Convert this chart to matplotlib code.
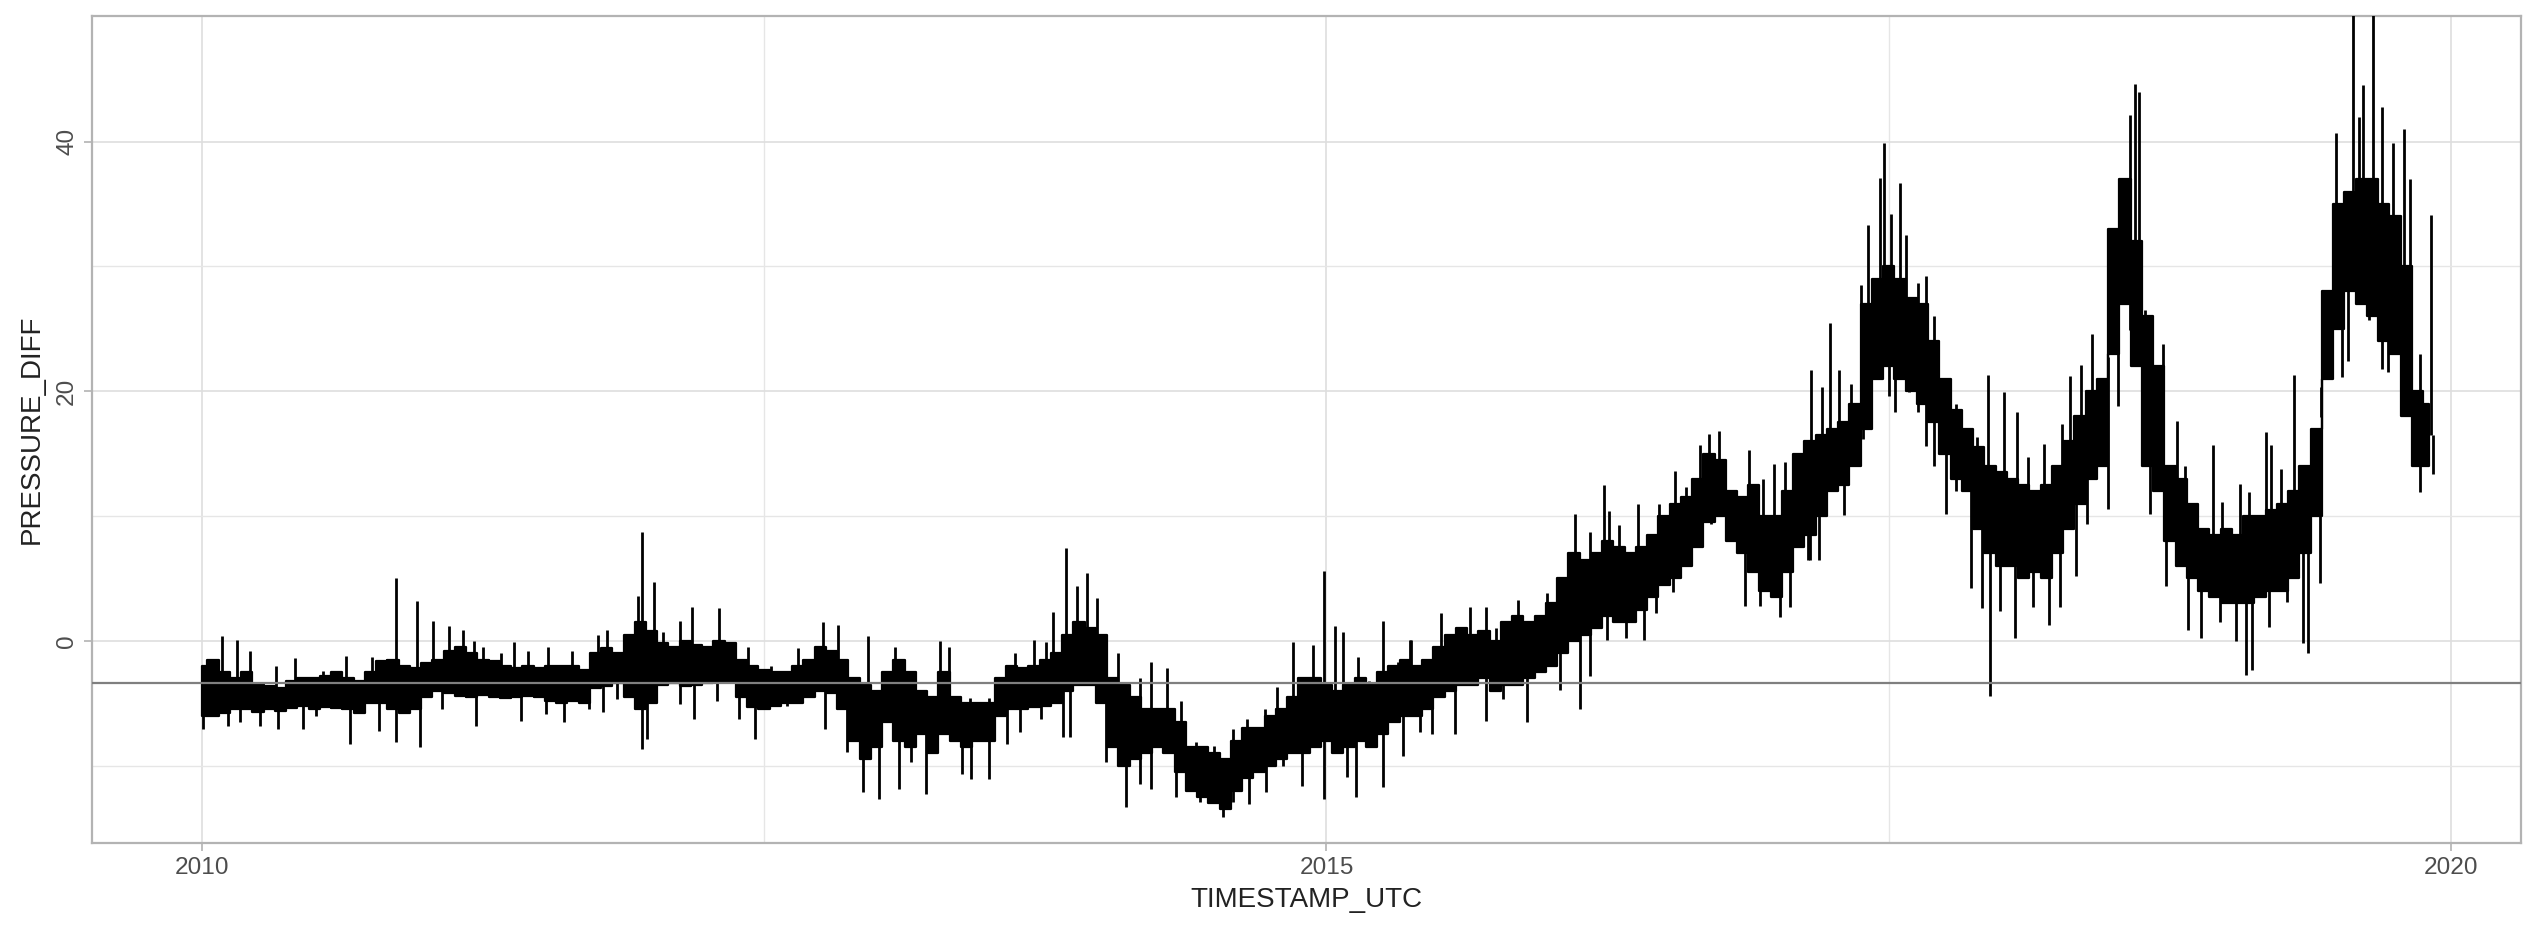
import numpy as np
import matplotlib
matplotlib.use("Agg")
import matplotlib.pyplot as plt

plt.rcParams['font.family'] = ['Liberation Sans', 'DejaVu Sans']

# core band of the series, one value every 0.05 year starting 2010.0
start_year = 2010.0
step_year = 0.05
core_lo = [
    -6.0, -6.0, -5.8, -5.5, -5.5, -5.7, -5.5, -5.6, -5.4, -5.2, -5.5, -5.3, -5.4, -5.5, -5.8, -5.0, -5.0, -5.5, -5.8, -5.5,
    -4.5, -4.0, -4.2, -4.4, -4.5, -4.3, -4.5, -4.6, -4.5, -4.4, -4.5, -4.8, -5.0, -4.8, -5.0, -3.8, -3.6, -3.4, -4.5, -5.5,
    -5.0, -3.5, -3.4, -3.6, -3.5, -3.4, -3.3, -3.2, -4.5, -5.3, -5.5, -5.2, -5.0, -5.0, -4.5, -4.0, -4.2, -5.5, -8.0, -9.5,
    -8.5, -6.5, -8.0, -8.5, -7.5, -9.0, -7.5, -8.0, -8.5, -8.0, -8.0, -6.0, -5.5, -5.5, -5.3, -5.2, -5.0, -4.0, -3.5, -3.5,
    -5.0, -8.5, -10.0, -9.5, -9.0, -8.5, -9.0, -10.5, -12.0, -12.5, -13.0, -13.5, -12.0, -11.0, -10.5, -10.0, -9.5, -9.0, -9.0, -8.5,
    -8.0, -9.0, -8.5, -8.0, -8.5, -7.5, -6.5, -6.0, -6.0, -5.5, -4.5, -4.0, -3.5, -3.5, -3.0, -4.0, -3.5, -3.5, -3.0, -2.5,
    -2.0, -1.0, 0.0, 0.5, 1.0, 2.0, 1.5, 1.5, 2.5, 3.5, 4.5, 5.0, 6.0, 7.5, 9.5, 10.0, 8.0, 7.0, 5.5, 4.0,
    3.5, 5.5, 7.5, 8.5, 10.0, 12.0, 12.5, 14.0, 17.0, 21.0, 22.0, 21.0, 20.0, 19.0, 17.5, 15.0, 13.0, 12.0, 9.0, 7.0,
    6.0, 6.0, 5.0, 5.5, 5.0, 7.0, 9.0, 11.0, 13.0, 14.0, 23.0, 27.0, 22.0, 14.0, 12.0, 8.0, 6.0, 5.0, 4.0, 3.5,
    3.0, 3.0, 3.0, 3.5, 4.0, 4.0, 5.0, 7.0, 10.0, 21.0, 25.0, 28.0, 27.0, 26.0, 24.0, 23.0, 18.0, 14.0, 14.0,
]
core_hi = [
    -2.0, -1.5, -2.5, -3.0, -2.5, -3.5, -3.6, -3.8, -3.2, -3.0, -3.0, -2.8, -2.5, -3.0, -3.2, -2.5, -1.6, -1.5, -2.0, -2.2,
    -1.8, -1.5, -0.8, -0.5, -1.0, -1.5, -1.6, -2.0, -2.2, -2.0, -2.2, -2.0, -2.0, -2.0, -2.3, -1.0, -0.6, -1.0, 0.5, 1.5,
    0.8, -0.2, -0.5, 0.0, -0.3, -0.5, 0.0, -0.2, -1.5, -2.0, -2.3, -2.5, -2.5, -2.0, -1.5, -0.5, -0.8, -1.5, -3.0, -3.5,
    -4.0, -2.5, -1.5, -2.5, -4.0, -4.5, -2.5, -4.5, -5.0, -5.0, -5.0, -3.0, -2.0, -2.2, -2.0, -1.5, -1.0, 0.5, 1.5, 1.0,
    0.5, -3.0, -3.5, -4.5, -5.5, -5.5, -5.5, -6.5, -8.5, -8.5, -9.0, -9.5, -8.0, -7.0, -7.0, -6.0, -5.5, -4.5, -3.0, -3.0,
    -3.5, -4.0, -3.5, -3.0, -3.5, -2.5, -2.0, -1.5, -2.0, -1.5, -0.5, 0.5, 1.0, 0.5, 0.8, 0.0, 1.5, 2.0, 1.5, 2.0,
    3.0, 5.0, 7.0, 6.5, 7.0, 8.0, 7.5, 7.0, 7.5, 8.5, 10.0, 11.0, 11.5, 13.0, 15.0, 14.5, 12.0, 11.5, 12.5, 10.0,
    10.0, 12.0, 15.0, 16.0, 16.5, 17.0, 17.5, 19.0, 27.0, 29.0, 30.0, 29.0, 27.5, 27.0, 24.0, 21.0, 18.5, 17.0, 15.5, 14.0,
    13.5, 13.0, 12.5, 12.0, 12.5, 14.0, 16.0, 18.0, 20.0, 21.0, 33.0, 37.0, 32.0, 26.0, 22.0, 14.0, 13.0, 11.0, 9.0, 8.5,
    9.0, 8.5, 10.0, 10.0, 10.5, 11.0, 12.0, 14.0, 17.0, 28.0, 35.0, 36.0, 37.0, 37.0, 35.0, 34.0, 30.0, 20.0, 19.0,
]

# single upward spikes (decimal year, value)
up_t = [2010.09, 2010.155, 2010.215, 2010.33, 2010.415, 2010.54, 2010.64, 2010.755, 2010.864, 2010.958,
        2011.03, 2011.10, 2011.16, 2011.21, 2011.25, 2011.33, 2011.39, 2011.45, 2011.54, 2011.645, 2011.76,
        2011.80, 2011.94, 2011.956, 2012.01, 2012.05, 2012.126, 2012.18, 2012.30, 2012.36, 2012.43, 2012.53,
        2012.65, 2012.76, 2012.83, 2012.96, 2013.08, 2013.28, 2013.32, 2013.415, 2013.50, 2013.59,
        2013.615, 2013.70, 2013.755, 2013.785, 2013.84, 2013.89, 2013.936, 2013.98, 2014.074, 2014.17, 2014.22,
        2014.29, 2014.355, 2014.42, 2014.50, 2014.585, 2014.645, 2014.725, 2014.78, 2014.85, 2014.94, 2014.988,
        2015.037, 2015.074, 2015.14, 2015.19, 2015.25, 2015.32, 2015.37,
        2015.378, 2015.51, 2015.64, 2015.71, 2015.755, 2015.85, 2015.98, 2016.03, 2016.104, 2016.17, 2016.234,
        2016.256, 2016.30, 2016.385, 2016.48, 2016.55, 2016.60, 2016.66, 2016.70, 2016.745, 2016.80, 2016.88,
        2016.94, 2016.99, 2017.04, 2017.10, 2017.155,
        2017.205, 2017.24, 2017.28, 2017.33, 2017.378, 2017.408, 2017.46, 2017.48, 2017.51, 2017.548, 2017.575,
        2017.63, 2017.667, 2017.70, 2017.75, 2017.80, 2017.82, 2017.894, 2017.94, 2018.01, 2018.07, 2018.12,
        2018.19, 2018.27, 2018.304, 2018.356, 2018.405, 2018.445, 2018.50, 2018.53, 2018.57, 2018.593, 2018.61,
        2018.64, 2018.674,
        2018.72, 2018.78, 2018.815, 2018.94, 2018.98, 2019.06, 2019.10, 2019.175, 2019.20, 2019.245, 2019.30,
        2019.34, 2019.42, 2019.47, 2019.49, 2019.563, 2019.59, 2019.608, 2019.652, 2019.693, 2019.74, 2019.79,
        2019.815, 2019.86, 2019.908]
up_v = [0.4, 0.05, -0.8, -2.0, -1.4, -2.4, -1.2, -1.3, 5.0, 3.2,
        1.6, 1.2, 0.9, 0.0, -0.5, -1.0, -0.1, -0.8, -0.5, -0.8, 0.5,
        0.9, 3.6, 8.7, 4.7, 0.7, 1.6, 2.7, 2.6, -0.1, -0.5, -2.0,
        -0.6, 1.5, 1.3, 0.4, -0.5, 0.0, -0.5, -4.6, -4.6, -2.2,
        -1.0, 0.05, -0.1, 2.3, 7.4, 4.4, 5.4, 3.4, -1.0, -3.0, -1.7,
        -2.2, -4.8, -8.1, -8.4, -7.1, -6.3, -5.5, -3.7, -0.1, -0.3, 5.6,
        1.2, 0.7, -1.3, -3.2, 1.6, -1.7, 0.05,
        0.07, 2.2, 2.7, 2.7, 1.0, 3.3, 3.8, 4.8, 10.2, 8.7, 12.5,
        10.4, 9.3, 11.0, 11.0, 13.6, 12.35, 15.7, 16.6, 16.8, 11.7, 15.3,
        13.0, 14.2, 14.35, 14.65, 21.7,
        20.3, 25.5, 21.7, 20.6, 28.5, 33.3, 37.1, 39.9, 34.2, 36.7, 32.5,
        28.7, 29.2, 26.0, 20.6, 19.0, 18.1, 16.3, 21.3, 19.9, 18.3, 14.7,
        15.8, 17.4, 21.2, 22.1, 24.6, 21.0, 31.4, 36.2, 42.1, 44.6, 44.0,
        26.5, 20.6,
        23.8, 17.6, 14.0, 15.7, 11.1, 12.6, 11.9, 16.7, 15.7, 13.8, 21.3,
        12.3, 20.3, 22.0, 40.7, 52.0, 42.0, 44.5, 52.0, 42.8, 39.9, 41.0,
        37.0, 23.0, 34.1]

# single downward spikes (decimal year, value)
dn_t = [2010.004, 2010.118, 2010.17, 2010.26, 2010.34, 2010.45, 2010.51, 2010.66, 2010.79, 2010.864, 2010.97,
        2011.07, 2011.22, 2011.42, 2011.53, 2011.61, 2011.72,
        2011.785, 2011.845, 2011.956, 2011.98, 2012.126, 2012.19, 2012.29, 2012.39, 2012.46, 2012.60, 2012.77,
        2012.87, 2012.94, 2013.01, 2013.10, 2013.155, 2013.22, 2013.38, 2013.42, 2013.50, 2013.58,
        2013.637, 2013.73, 2013.83, 2013.86, 2014.02, 2014.11, 2014.17, 2014.22, 2014.33, 2014.44, 2014.538,
        2014.585, 2014.656, 2014.733, 2014.807, 2014.89, 2014.988, 2015.09, 2015.13, 2015.25, 2015.34,
        2015.415, 2015.47, 2015.57, 2015.71, 2015.785, 2015.89, 2016.04, 2016.126, 2016.17, 2016.245, 2016.33,
        2016.41, 2016.466, 2016.54, 2016.60, 2016.71, 2016.86, 2016.926, 2017.015, 2017.06, 2017.14,
        2017.15, 2017.19, 2017.30, 2017.385, 2017.42, 2017.50, 2017.526, 2017.59, 2017.63, 2017.667, 2017.70,
        2017.756, 2017.80, 2017.867, 2017.916, 2017.95, 2017.993, 2018.06, 2018.14, 2018.21, 2018.26, 2018.33,
        2018.38, 2018.475, 2018.52, 2018.57, 2018.66,
        2018.73, 2018.83, 2018.886, 2018.97, 2019.045, 2019.086, 2019.116, 2019.19, 2019.27, 2019.34, 2019.363,
        2019.415, 2019.515, 2019.54, 2019.634, 2019.693, 2019.72, 2019.767, 2019.80, 2019.86, 2019.92]
dn_v = [-7.1, -6.8, -6.5, -6.8, -7.1, -7.1, -6.0, -8.3, -7.2, -8.1, -8.5,
        -5.5, -6.8, -6.4, -5.9, -6.5, -5.5,
        -5.7, -4.65, -8.7, -7.9, -5.05, -6.3, -4.8, -6.3, -7.9, -5.2, -7.1,
        -8.9, -12.1, -12.7, -11.9, -9.7, -12.3, -10.7, -11.1, -11.1, -8.3,
        -7.3, -6.3, -7.7, -7.7, -9.7, -13.3, -11.5, -11.9, -12.5, -12.9, -14.1,
        -12.9, -13.1, -12.1, -10.0, -11.6, -12.7, -10.9, -12.5, -11.7, -9.2,
        -7.3, -7.5, -7.5, -6.4, -4.7, -6.5, -3.9, -5.5, -2.8, 0.07, 0.2,
        0.07, 2.2, 3.9, 6.5, 9.4, 2.8, 2.8, 1.9, 2.7, 6.5,
        6.5, 6.5, 10.1, 16.2, 22.6, 19.6, 18.3, 19.9, 18.3, 15.6, 14.0,
        10.2, 12.0, 4.2, 2.6, -4.4, 2.4, 0.2, 2.7, 1.3, 2.7, 5.2,
        9.4, 10.6, 18.8, 24.9, 10.2,
        4.4, 0.9, 0.2, 1.5, 0.0, -2.7, -2.3, 1.1, 3.1, -0.2, -1.0,
        4.6, 21.1, 22.4, 25.7, 21.8, 21.5, 24.2, 23.0, 11.9, 13.4]

ref_level = -3.38

t = start_year + step_year * np.arange(len(core_lo))
core_lo = np.array(core_lo)
core_hi = np.array(core_hi)
mid = (core_lo + core_hi) / 2

fig = plt.figure(figsize=(12.63, 4.63), dpi=200)
ax = fig.add_axes([0.0364, 0.0896, 0.9616, 0.8931])

# dense band of readings, then the single readings that stick out of it
ax.fill_between(t, core_lo, core_hi, step='mid', color='black', linewidth=0.8, zorder=3)
ax.vlines(up_t, np.interp(up_t, t, mid), up_v, color='black', linewidth=1.0, zorder=3)
ax.vlines(dn_t, dn_v, np.interp(dn_t, t, mid), color='black', linewidth=1.0, zorder=3)
ax.axhline(ref_level, color='#7f7f7f', linewidth=0.8, zorder=4)

ax.set_xlim(2009.512, 2020.31)
ax.set_ylim(-16.2, 50.06)
ax.set_xticks([2010, 2015, 2020])
ax.set_xticklabels(['2010', '2015', '2020'])
ax.set_xticks([2012.5, 2017.5], minor=True)
ax.set_yticks([0, 20, 40])
ax.set_yticks([-10, 10, 30], minor=True)
ax.grid(which='major', color='#dedede', linewidth=0.6, zorder=0)
ax.grid(which='minor', color='#e6e6e6', linewidth=0.5, zorder=0)
ax.set_axisbelow(True)

for s in ax.spines.values():
    s.set_color('#b3b3b3')
    s.set_linewidth(0.8)
ax.tick_params(which='major', length=3, width=0.6, color='#b3b3b3', labelsize=8.8, labelcolor='#4d4d4d', pad=2)
ax.tick_params(which='minor', length=0)
for lab in ax.get_yticklabels():
    lab.set_rotation(90)
    lab.set_va('center')

ax.set_xlabel('TIMESTAMP_UTC', fontsize=10, color='#222222', labelpad=3)
ax.set_ylabel('PRESSURE_DIFF', fontsize=10, color='#222222', labelpad=4)

fig.savefig('out.png', dpi=200)
